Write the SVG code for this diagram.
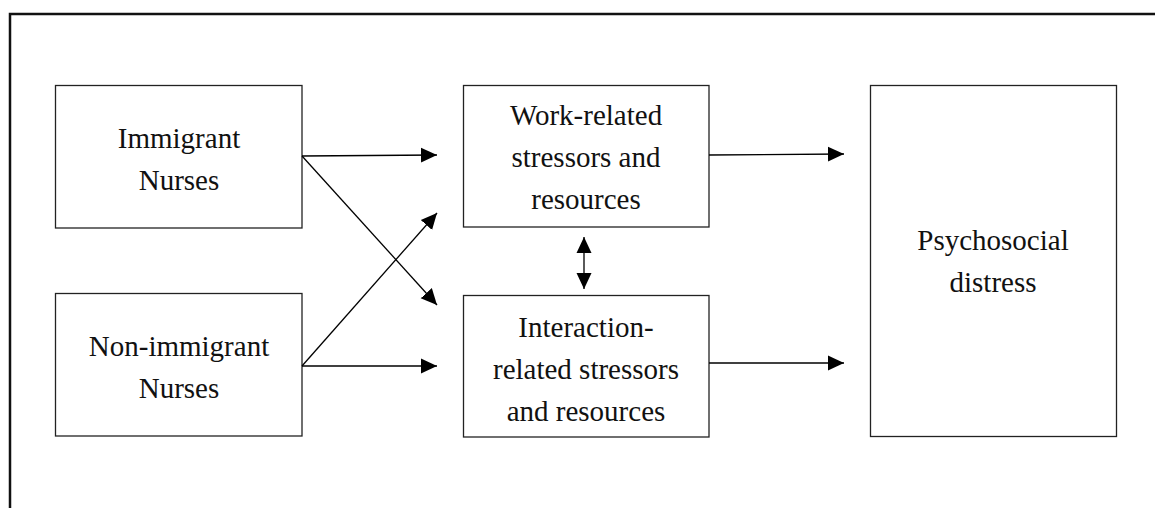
<svg xmlns="http://www.w3.org/2000/svg" width="1155" height="508" viewBox="0 0 1155 508">
<style>
.box{fill:#fff;stroke:#222;stroke-width:1.3}
.lbl{font-family:"Liberation Serif",serif;font-size:29px;fill:#111;text-anchor:middle}
.con{stroke:#000;stroke-width:1.3;fill:none}
</style>
<defs>
<marker id="ah" markerUnits="userSpaceOnUse" markerWidth="18" markerHeight="18" viewBox="0 0 18 18" refX="16" refY="9" orient="auto-start-reverse">
<path d="M0,1.5 L16,9 L0,16.5 Z" fill="#000"/>
</marker>
</defs>
<rect width="1155" height="508" fill="#fff"/>
<g id="frame">
<path d="M10,508 V14 H1155" fill="none" stroke="#111" stroke-width="2.5"/>
</g>
<g id="immigrant">
<rect class="box" x="55.5" y="85.5" width="246.5" height="142.5"/>
<text class="lbl" x="179" y="148">Immigrant</text>
<text class="lbl" x="179" y="190">Nurses</text>
</g>
<g id="nonimmigrant">
<rect class="box" x="55.5" y="293.5" width="246.5" height="142.5"/>
<text class="lbl" x="179" y="356">Non-immigrant</text>
<text class="lbl" x="179" y="398">Nurses</text>
</g>
<g id="work">
<rect class="box" x="463.5" y="85.5" width="245.5" height="141.5"/>
<text class="lbl" x="586" y="125">Work-related</text>
<text class="lbl" x="586" y="167">stressors and</text>
<text class="lbl" x="586" y="209">resources</text>
</g>
<g id="interaction">
<rect class="box" x="463.5" y="295.5" width="245.5" height="141.5"/>
<text class="lbl" x="586" y="337">Interaction-</text>
<text class="lbl" x="586" y="379">related stressors</text>
<text class="lbl" x="586" y="421">and resources</text>
</g>
<g id="distress">
<rect class="box" x="870.5" y="85.5" width="246" height="351"/>
<text class="lbl" x="993" y="250">Psychosocial</text>
<text class="lbl" x="993" y="292">distress</text>
</g>
<g id="connectors">
<line class="con" x1="302" y1="156" x2="437" y2="155" marker-end="url(#ah)"/>
<line class="con" x1="302" y1="156" x2="437" y2="305" marker-end="url(#ah)"/>
<line class="con" x1="302" y1="366" x2="437" y2="213" marker-end="url(#ah)"/>
<line class="con" x1="302" y1="366" x2="437" y2="366" marker-end="url(#ah)"/>
<line class="con" x1="709" y1="155" x2="844" y2="154" marker-end="url(#ah)"/>
<line class="con" x1="709" y1="363" x2="844" y2="363" marker-end="url(#ah)"/>
<line class="con" x1="584" y1="237" x2="584" y2="289" marker-start="url(#ah)" marker-end="url(#ah)"/>
</g>
</svg>
